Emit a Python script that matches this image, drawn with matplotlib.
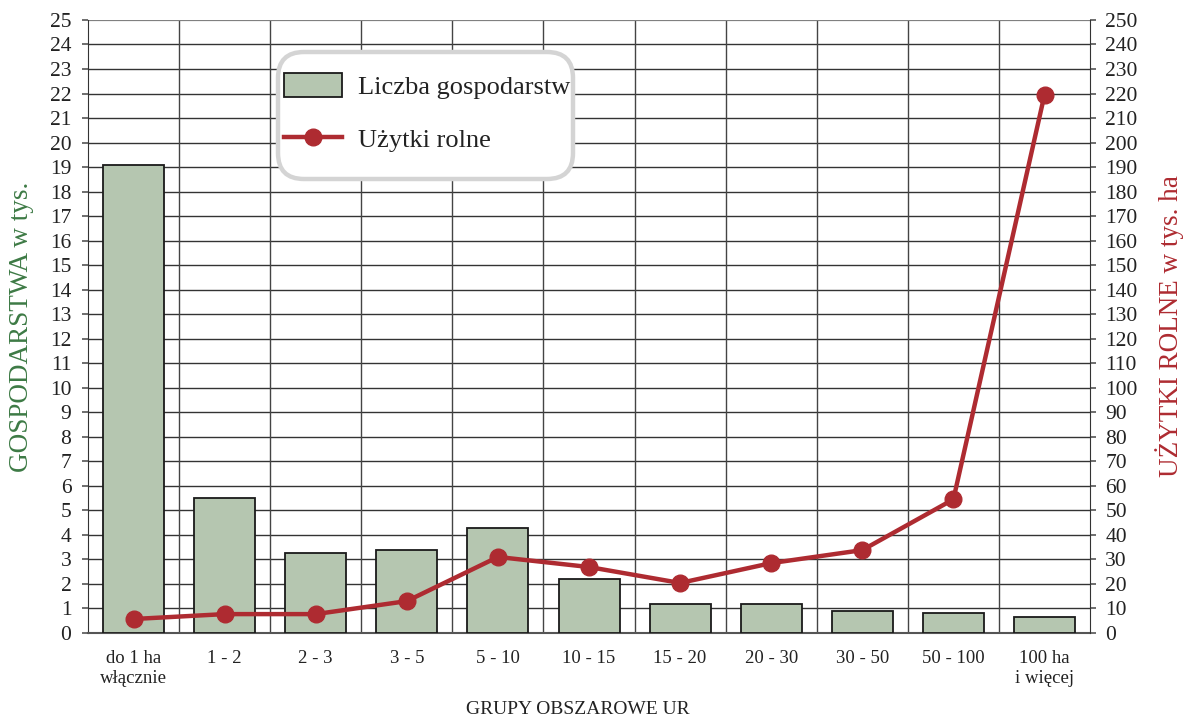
import matplotlib.pyplot as plt
import numpy as np
from matplotlib.patches import FancyBboxPatch

plt.rcParams['font.family'] = ['Liberation Serif', 'DejaVu Serif']

categories = ['do 1 ha\nwłącznie', '1 - 2', '2 - 3', '3 - 5', '5 - 10', '10 - 15',
              '15 - 20', '20 - 30', '30 - 50', '50 - 100', '100 ha\ni więcej']
gospodarstwa = [19.1, 5.5, 3.25, 3.4, 4.3, 2.2, 1.2, 1.2, 0.9, 0.8, 0.65]
uzytki = [5.7, 7.7, 7.7, 13.0, 31.0, 26.9, 20.4, 28.5, 33.8, 54.5, 219.5]

bar_color = '#b5c6b0'
line_color = '#ae2b31'

fig = plt.figure(figsize=(11.86, 7.18), dpi=100)
ax = fig.add_axes([0.0742, 0.1184, 0.8449, 0.8538])
x = np.arange(len(categories))

ax.bar(x, gospodarstwa, width=0.67, color=bar_color, edgecolor='#1a1a1a',
       linewidth=1.3, zorder=3, label='Liczba gospodarstw')
ax.set_xlim(-0.5, len(categories) - 0.5)
ax.set_ylim(0, 25)
ax.set_yticks(range(0, 26))
ax.set_xticks(x)
ax.set_xticklabels(categories, linespacing=1.25)
ax.tick_params(axis='x', length=0, pad=12, labelsize=13.5, colors='#222222')
ax.tick_params(axis='y', length=4, width=1.2, color='#555555', labelsize=15.5,
               pad=8, labelcolor='#222222')
for yy in range(1, 25):
    ax.axhline(yy, color='#333333', lw=1.0, zorder=1)
for xx in np.arange(0.5, len(categories) - 0.5):
    ax.axvline(xx, color='#444444', lw=1.0, zorder=1)
for s in ['top', 'right']:
    ax.spines[s].set_visible(False)
ax.spines['left'].set_color('#333333')
ax.spines['bottom'].set_color('#555555')
ax.spines['bottom'].set_linewidth(1.5)
ax.axhline(25, color='#808080', lw=1.6, zorder=1)

ax.set_ylabel('GOSPODARSTWA w tys.', color='#3d7a45', fontsize=19.5, va='center')
ax.yaxis.set_label_coords(-0.066, 0.5)
ax.set_xlabel('GRUPY OBSZAROWE UR', fontsize=14, color='#222222', va='center')
ax.xaxis.set_label_coords(0.489, -0.1256)

ax2 = ax.twinx()
ax2.plot(x, uzytki, color=line_color, lw=3.2, marker='o', markersize=12,
         zorder=5, label='Użytki rolne')
ax2.set_ylim(0, 250)
ax2.set_yticks(range(0, 251, 10))
ax2.tick_params(axis='y', length=4, width=1.2, color='#555555', labelsize=15.5,
                pad=7, labelcolor='#222222')
for s in ['top', 'left', 'bottom']:
    ax2.spines[s].set_visible(False)
ax2.spines['right'].set_color('#333333')
ax2.set_ylabel('UŻYTKI ROLNE w tys. ha', color=line_color, fontsize=19.5, va='center')
ax2.yaxis.set_label_coords(1.0798, 0.5)

# legend box (rounded, light gray border)
box = FancyBboxPatch((2.78, 5.39), 2.95, 1.27,
                     boxstyle='round,pad=0,rounding_size=0.26',
                     transform=fig.dpi_scale_trans, facecolor='white',
                     edgecolor='#d4d4d4', linewidth=3.2, zorder=10)
ax2.add_artist(box)

h1, l1 = ax.get_legend_handles_labels()
h2, l2 = ax2.get_legend_handles_labels()
leg = ax2.legend(h1 + h2, l1 + l2, loc='upper left',
                 bbox_to_anchor=(284 / 1186, 1 - 73 / 718),
                 bbox_transform=fig.transFigure,
                 fontsize=19, frameon=False, borderpad=0, borderaxespad=0,
                 handlelength=2.2, handleheight=1.0, labelspacing=1.05,
                 handletextpad=0.6)
leg.set_zorder(11)
for t in leg.get_texts():
    t.set_color('#222222')

fig.savefig('out.png', dpi=100)
